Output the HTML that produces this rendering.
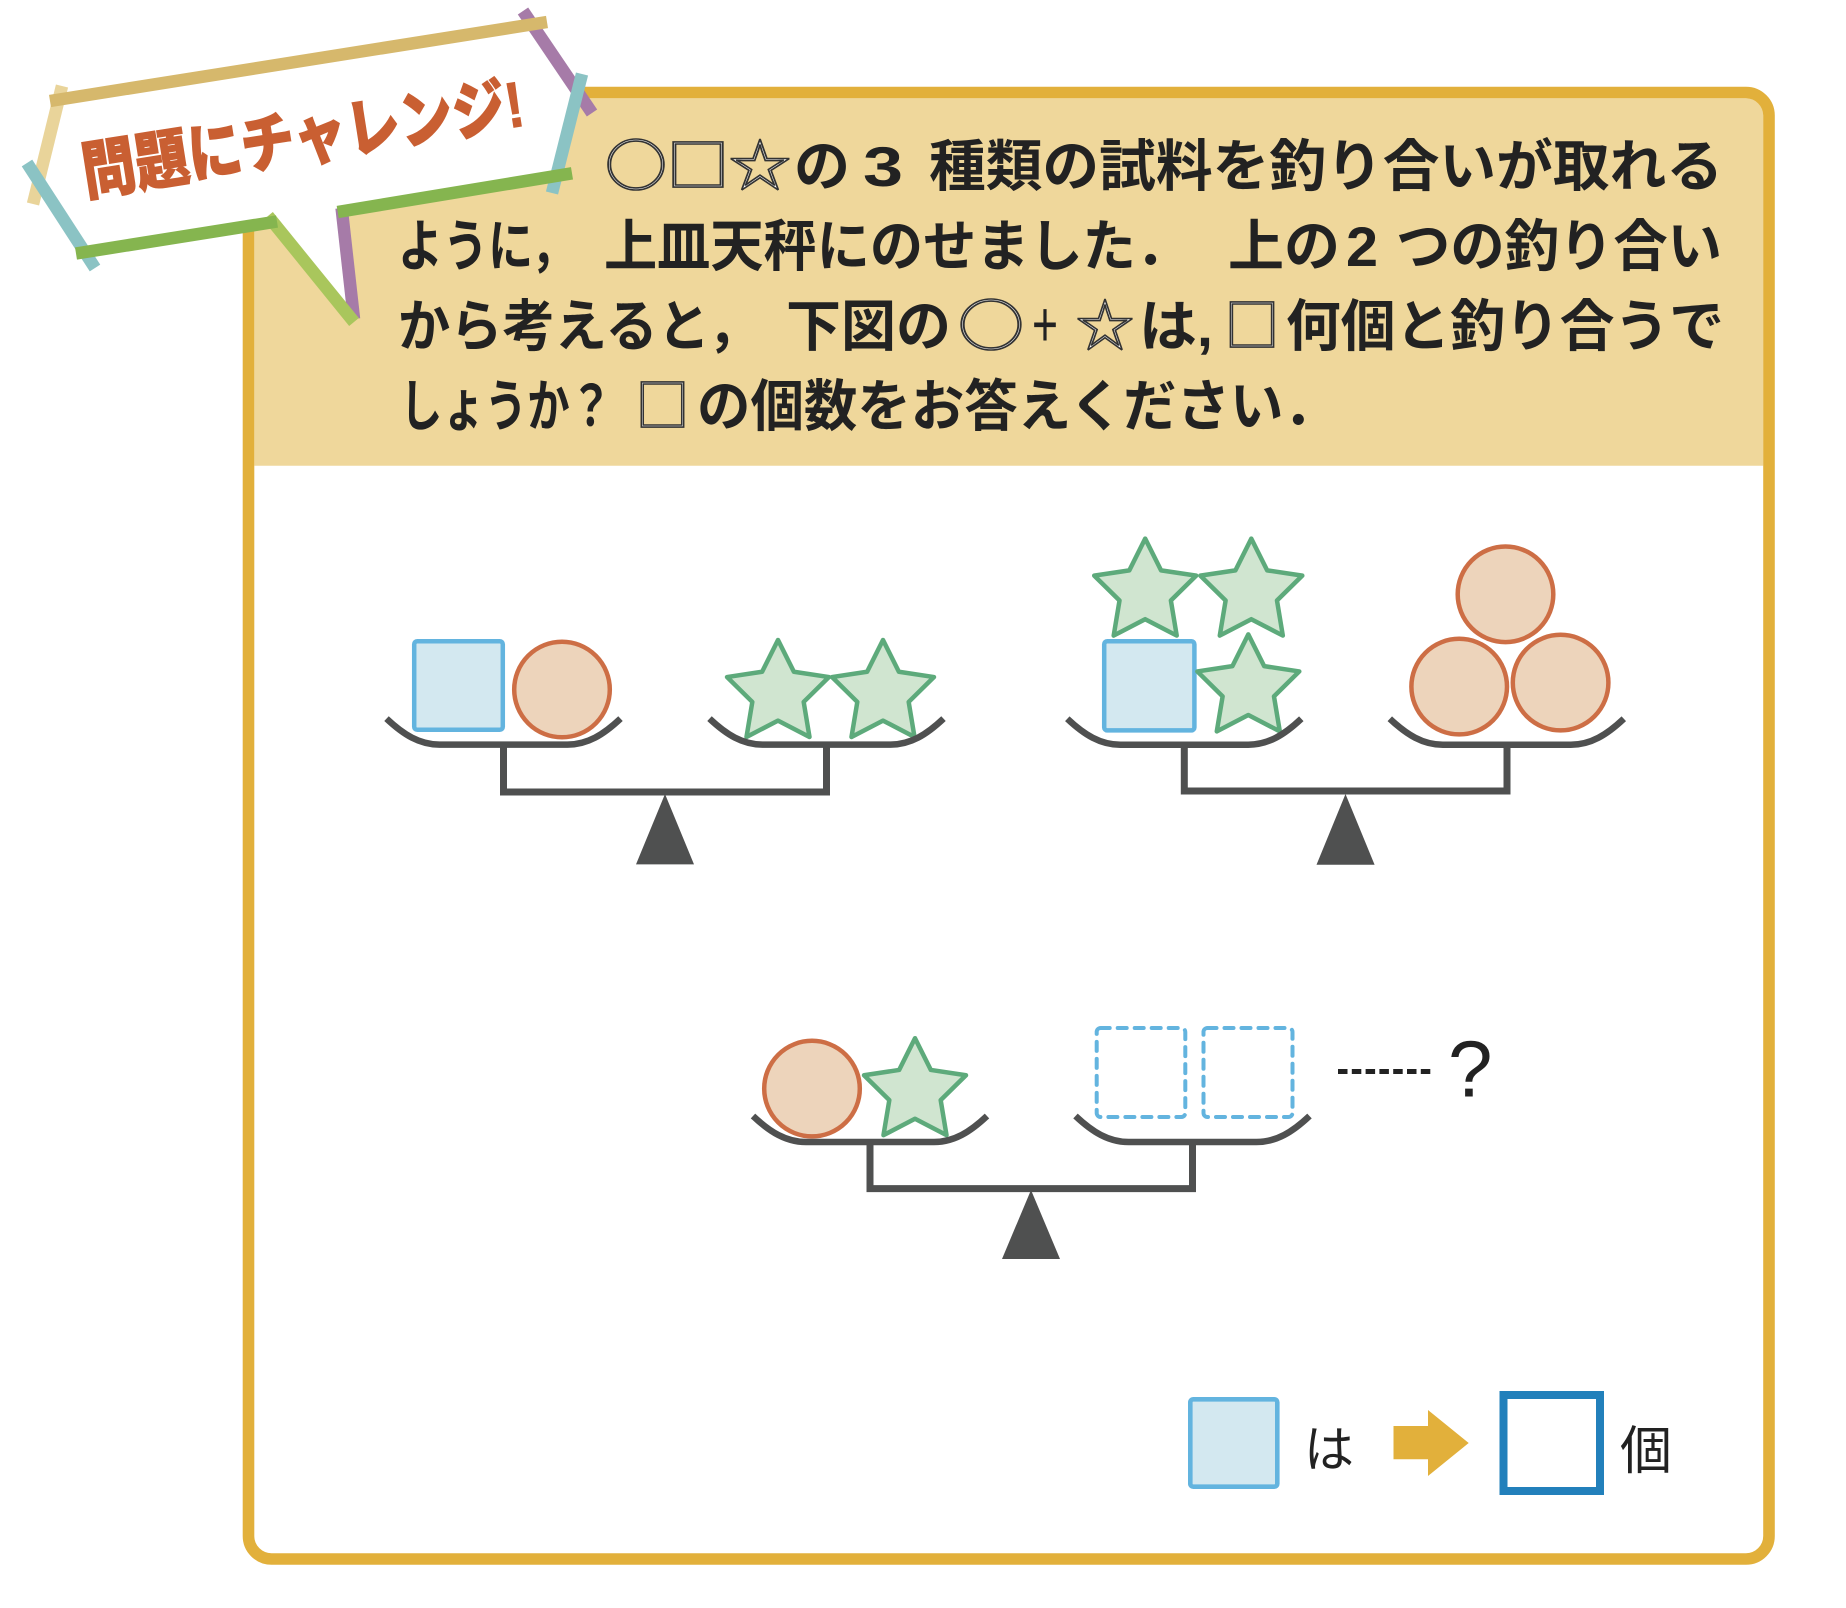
<!DOCTYPE html>
<html><head><meta charset="utf-8"><style>
html,body{margin:0;padding:0;background:#fff;}
svg{display:block;}
.t{font-family:"Liberation Sans","Noto Sans CJK JP",sans-serif;font-weight:700;font-size:56px;fill:#222;}
.h{font-family:"Noto Sans CJK JP","Liberation Sans",sans-serif;font-weight:400;font-size:56px;fill:#fff;stroke:#333;stroke-width:1.6;}
.r{font-family:"Liberation Sans","Noto Sans CJK JP",sans-serif;font-weight:400;fill:#222;}
</style></head><body>
<svg width="1846" height="1608" viewBox="0 0 1846 1608" xmlns="http://www.w3.org/2000/svg">
<defs>
<path id="st" d="M0,-53.6 L15.87,-21.84 L50.98,-16.56 L25.68,8.34 L31.51,43.36 L0,27 L-31.51,43.36 L-25.68,8.34 L-50.98,-16.56 L-15.87,-21.84 Z"/>
</defs>
<!-- frame -->
<rect x="248.5" y="92.5" width="1520.5" height="1466.5" rx="23" fill="#fff"/>
<path d="M254.3,465.7 V115 Q254.3,98.3 271,98.3 H1747 Q1763.2,98.3 1763.2,115 V465.7 Z" fill="#efd79b"/>
<rect x="248.5" y="92.5" width="1520.5" height="1466.5" rx="23" fill="none" stroke="#e2b03b" stroke-width="11.6"/>

<!-- header text -->
<text class="h" x="605" y="186" textLength="186" lengthAdjust="spacingAndGlyphs">○□☆</text>
<text class="t" x="794" y="186">の</text>
<text class="t" x="863" y="186" textLength="40" lengthAdjust="spacingAndGlyphs">3</text>
<text class="t" x="929" y="186" textLength="794" lengthAdjust="spacingAndGlyphs">種類の試料を釣り合いが取れる</text>

<text class="t" x="398" y="266" textLength="178" lengthAdjust="spacingAndGlyphs">ように，</text>
<text class="t" x="604" y="266" textLength="585" lengthAdjust="spacingAndGlyphs">上皿天秤にのせました．</text>
<text class="t" x="1228" y="266" textLength="112" lengthAdjust="spacingAndGlyphs">上の</text>
<text class="t" x="1346" y="266" textLength="32" lengthAdjust="spacingAndGlyphs">2</text>
<text class="t" x="1396" y="266" textLength="326" lengthAdjust="spacingAndGlyphs">つの釣り合い</text>

<text class="t" x="398" y="346" textLength="362" lengthAdjust="spacingAndGlyphs">から考えると，</text>
<text class="t" x="786" y="346" textLength="165" lengthAdjust="spacingAndGlyphs">下図の</text>
<text class="h" x="958" y="346" textLength="66" lengthAdjust="spacingAndGlyphs">○</text>
<text class="r" x="1032" y="346" font-size="64" textLength="26" lengthAdjust="spacingAndGlyphs">+</text>
<text class="h" x="1076" y="346" textLength="58" lengthAdjust="spacingAndGlyphs">☆</text>
<text class="t" x="1139" y="346" textLength="74" lengthAdjust="spacingAndGlyphs">は,</text>
<text class="h" x="1225" y="346" textLength="54" lengthAdjust="spacingAndGlyphs">□</text>
<text class="t" x="1286" y="346" textLength="438" lengthAdjust="spacingAndGlyphs">何個と釣り合うで</text>

<text class="t" x="400" y="426" textLength="212" lengthAdjust="spacingAndGlyphs">しょうか？</text>
<text class="h" x="636" y="426" textLength="53" lengthAdjust="spacingAndGlyphs">□</text>
<text class="t" x="697" y="426" textLength="640" lengthAdjust="spacingAndGlyphs">の個数をお答えください．</text>

<!-- badge -->
<polygon points="52,100 540,22 578,95 558,178 342,210 352,318 268,218 78,252 38,178 58,100" fill="#fff"/>
<g stroke-width="12.5" stroke-linecap="butt" fill="none">
<line x1="62" y1="86" x2="33" y2="204" stroke="#e9d49a"/>
<line x1="523" y1="11" x2="592" y2="113" stroke="#a67ba8"/>
<line x1="341.6" y1="208" x2="354" y2="319" stroke="#a67ba8"/>
<line x1="268" y1="216" x2="354" y2="322" stroke="#a9c65c"/>
<line x1="27" y1="163" x2="95" y2="268" stroke="#8bc3c4"/>
<line x1="582" y1="74" x2="552" y2="193" stroke="#8bc3c4"/>
<line x1="50" y1="101" x2="547" y2="22" stroke="#d6b86c"/>
<line x1="76" y1="253.5" x2="277" y2="221.5" stroke="#85b54f"/>
<line x1="337.7" y1="212" x2="572" y2="173.3" stroke="#85b54f"/>
</g>
<text x="86" y="195" transform="rotate(-9 86 195)" font-family="'Liberation Sans','Noto Sans CJK JP',sans-serif" font-weight="900" font-size="64" fill="#c95f32" stroke="#c95f32" stroke-width="1.2" textLength="446" lengthAdjust="spacingAndGlyphs">問題にチャレンジ!</text>

<!-- items balance 1 -->
<g stroke-width="4.5">
<rect x="414.2" y="641.2" width="88.6" height="88.6" rx="3" fill="#d3e8f0" stroke="#63b4df"/>
<circle cx="562" cy="689.5" r="47.8" fill="#edd4bb" stroke="#cd6e45"/>
<use href="#st" transform="translate(778,693.6)" fill="#d0e5d0" stroke="#5daa7b" stroke-linejoin="round"/>
<use href="#st" transform="translate(883,693.6)" fill="#d0e5d0" stroke="#5daa7b" stroke-linejoin="round"/>
</g>
<!-- items balance 2 -->
<g stroke-width="4.5">
<rect x="1104.2" y="641.2" width="90.2" height="89.2" rx="3" fill="#d3e8f0" stroke="#63b4df"/>
<use href="#st" transform="translate(1145.2,592.2)" fill="#d0e5d0" stroke="#5daa7b" stroke-linejoin="round"/>
<use href="#st" transform="translate(1251.3,592.2)" fill="#d0e5d0" stroke="#5daa7b" stroke-linejoin="round"/>
<use href="#st" transform="translate(1248.3,688)" fill="#d0e5d0" stroke="#5daa7b" stroke-linejoin="round"/>
<circle cx="1505.5" cy="594.3" r="47.8" fill="#edd4bb" stroke="#cd6e45"/>
<circle cx="1459.2" cy="686.6" r="47.8" fill="#edd4bb" stroke="#cd6e45"/>
<circle cx="1560.6" cy="682.6" r="47.8" fill="#edd4bb" stroke="#cd6e45"/>
</g>
<!-- items balance 3 -->
<g stroke-width="4.5">
<circle cx="812" cy="1088.6" r="47.8" fill="#edd4bb" stroke="#cd6e45"/>
<use href="#st" transform="translate(915,1091.8)" fill="#d0e5d0" stroke="#5daa7b" stroke-linejoin="round"/>
</g>
<g fill="none" stroke="#63b4df" stroke-width="4" stroke-dasharray="9 8" stroke-linecap="round">
<rect x="1096.7" y="1028" width="88.6" height="89" rx="4"/>
<rect x="1203.5" y="1028" width="89" height="89" rx="4"/>
</g>

<!-- balances -->
<g fill="none" stroke="#4f5050" stroke-width="6.5">
<path d="M386.5,718.6 C403.5,734.6 419.5,744.6 439.5,744.6 L567.5,744.6 C587.5,744.6 603.5,734.6 620.5,718.6"/>
<path d="M709.5,718.6 C726.5,734.6 742.5,744.6 762.5,744.6 L890.5,744.6 C910.5,744.6 926.5,734.6 943.5,718.6"/>
<path d="M503.5,744.6 V792 H826.5 V744.6" stroke-width="7"/>
<path d="M1067.3,718.7 C1084.3,734.7 1100.3,744.7 1120.3,744.7 L1248.3,744.7 C1268.3,744.7 1284.3,734.7 1301.3,718.7"/>
<path d="M1389.8,718.7 C1406.8,734.7 1422.8,744.7 1442.8,744.7 L1570.8,744.7 C1590.8,744.7 1606.8,734.7 1623.8,718.7"/>
<path d="M1184.3,744.7 V791 H1507 V744.7" stroke-width="7"/>
<path d="M753,1116 C770,1132 786,1142 806,1142 L934,1142 C954,1142 970,1132 987,1116"/>
<path d="M1075.5,1116 C1092.5,1132 1108.5,1142 1128.5,1142 L1256.5,1142 C1276.5,1142 1292.5,1132 1309.5,1116"/>
<path d="M870,1142 V1188.6 H1192.5 V1142" stroke-width="7"/>
</g>
<g fill="#4f5050">
<polygon points="665,794 694,864.4 636,864.4"/>
<polygon points="1345.5,794 1374.6,864.8 1316.5,864.8"/>
<polygon points="1031,1190 1060,1259 1002,1259"/>
</g>

<!-- dots and ? -->
<line x1="1338" y1="1071.5" x2="1432" y2="1071.5" stroke="#222" stroke-width="5" stroke-dasharray="9.5 4.3"/>
<text class="r" x="1448" y="1096.5" font-size="80">?</text>

<!-- legend -->
<rect x="1190.3" y="1399.3" width="87" height="87.4" rx="3" fill="#d3e8f0" stroke="#63b4df" stroke-width="4.6"/>
<text x="1304" y="1467" font-family="'Liberation Sans','Noto Sans CJK JP',sans-serif" font-size="50" fill="#222">は</text>
<polygon points="1393.5,1426 1428,1426 1428,1410 1468.7,1443 1428,1476 1428,1459.3 1393.5,1459.3" fill="#e2b03b"/>
<rect x="1503.5" y="1395" width="96.5" height="96" fill="#fff" stroke="#2280bb" stroke-width="8"/>
<text x="1620" y="1469" font-family="'Liberation Sans','Noto Sans CJK JP',sans-serif" font-size="52" fill="#222">個</text>
</svg>
</body></html>
